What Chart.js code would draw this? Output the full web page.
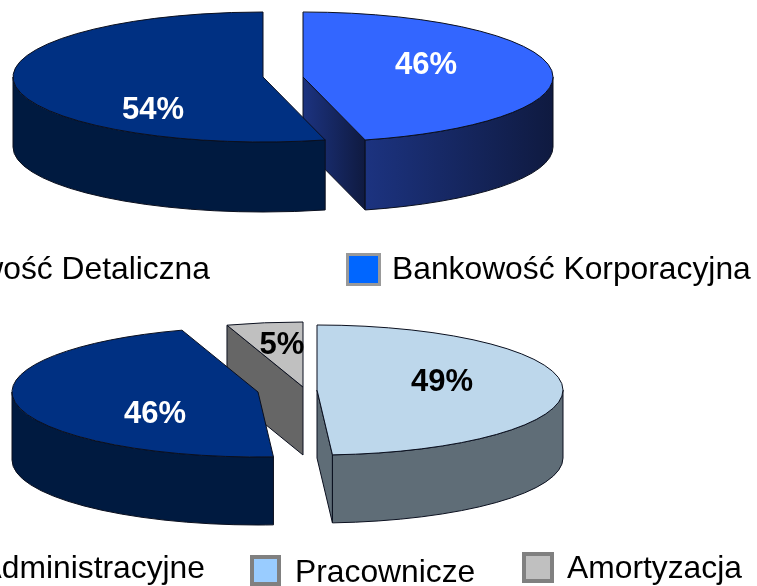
<!DOCTYPE html>
<html>
<head>
<meta charset="utf-8">
<title>Pie charts</title>
<script src="https://cdn.jsdelivr.net/npm/chart.js@4"></script>
<style>
html, body { margin: 0; padding: 0; background: #fff; }
body { position: relative; width: 757px; height: 586px; overflow: hidden; font-family: "Liberation Sans", Arial, sans-serif; }
.box { position: absolute; left: 0; width: 757px; height: 293px; }
.swatch { position: absolute; box-sizing: border-box; }
.name { position: absolute; font-size: 31.8px; line-height: 36px; white-space: nowrap; color: #000; }
</style>
</head>
<body>
<div class="box" style="top:0"><canvas id="incomeChart"></canvas></div>
<div class="box" style="top:293px"><canvas id="costChart"></canvas></div>
<script>
// income split
var incomeCategories = ["Bankowość Korporacyjna", "Bankowość Detaliczna"];
var incomeValues = [46, 54];
var incomeTopColors = ["#3366ff", "#003082"];
var incomeWallColors = [["#1c3380", "#0f1a40"], ["#001a40", "#001a40"]];
var incomeLegendColors = ["#0066ff", "#003082"];

// cost split
var costCategories = ["Pracownicze", "Administracyjne", "Amortyzacja"];
var costValues = [49, 46, 5];
var costTopColors = ["#bdd7eb", "#003082", "#c0c0c0"];
var costWallColors = [["#5f6d77", "#5f6d77"], ["#001a40", "#001a40"], ["#666666", "#666666"]];
var costLegendColors = ["#99ccff", "#003082", "#c0c0c0"];

// flattens the library's pie and gives every slice a side wall
var pie3d = {
	id: "pie3d",
	afterDatasetsUpdate: function(chart, args, opts) {
		var arcs = chart.getDatasetMeta(0).data;
		var area = chart.chartArea;
		var bx = (area.left + area.right) / 2, by = (area.top + area.bottom) / 2;
		arcs.forEach(function(el, i) {
			el.x = bx + opts.shift[i][0] * el.outerRadius / opts.rx;
			el.y = by + opts.shift[i][1] * el.outerRadius / opts.ry;
		});
	},
	beforeDatasetDraw: function(chart, args, opts) {
		var ctx = chart.ctx, arcs = chart.getDatasetMeta(0).data;
		var order = arcs.map(function(el, i) { return i; });
		order.sort(function(a, b) {
			return Math.sin((arcs[a].startAngle + arcs[a].endAngle) / 2) - Math.sin((arcs[b].startAngle + arcs[b].endAngle) / 2);
		});
		order.forEach(function(i) { drawWalls(ctx, arcs[i], i, opts); });
		var area = chart.chartArea, R = arcs[0].outerRadius;
		ctx.save();
		ctx.translate(opts.cx, opts.cy);
		ctx.scale(opts.rx / R, opts.ry / R);
		ctx.translate(-(area.left + area.right) / 2, -(area.top + area.bottom) / 2);
	},
	afterDatasetDraw: function(chart, args, opts) {
		var ctx = chart.ctx, arcs = chart.getDatasetMeta(0).data;
		var values = chart.data.datasets[0].data;
		ctx.restore();
		arcs.forEach(function(el, i) {
			var c = center(i, opts);
			ctx.beginPath();
			ctx.moveTo(c[0], c[1]);
			ctx.ellipse(c[0], c[1], opts.rx, opts.ry, 0, el.startAngle, el.endAngle);
			ctx.closePath();
			ctx.lineWidth = 1;
			ctx.strokeStyle = "#0a0f1e";
			ctx.stroke();
		});
		ctx.font = "bold 31px 'Liberation Sans', Arial, sans-serif";
		ctx.textAlign = "center";
		ctx.textBaseline = "middle";
		arcs.forEach(function(el, i) {
			ctx.fillStyle = opts.labelColors[i];
			ctx.fillText(values[i] + "%", opts.labelPos[i][0], opts.labelPos[i][1]);
		});
	}
};

function center(i, opts) {
	return [opts.cx + opts.shift[i][0], opts.cy + opts.shift[i][1]];
}

function wallFill(ctx, colors, x0, x1) {
	var g = ctx.createLinearGradient(x0, 0, x1, 0);
	g.addColorStop(0, colors[0]);
	g.addColorStop(1, colors[1]);
	return g;
}

function drawWalls(ctx, el, i, opts) {
	var c = center(i, opts), d = opts.depth, colors = opts.walls[i];
	ctx.save();
	ctx.lineWidth = 1;
	ctx.strokeStyle = "#0a0f1e";
	// cut faces turned towards the viewer
	[[el.startAngle, Math.cos(el.startAngle) < -1e-6], [el.endAngle, Math.cos(el.endAngle) > 1e-6]].forEach(function(face) {
		if (!face[1]) return;
		var ex = c[0] + Math.cos(face[0]) * opts.rx, ey = c[1] + Math.sin(face[0]) * opts.ry;
		ctx.beginPath();
		ctx.moveTo(c[0], c[1]);
		ctx.lineTo(ex, ey);
		ctx.lineTo(ex, ey + d);
		ctx.lineTo(c[0], c[1] + d);
		ctx.closePath();
		ctx.fillStyle = wallFill(ctx, colors, Math.min(c[0], ex), Math.max(c[0], ex));
		ctx.fill();
		ctx.stroke();
	});
	// rim, only the front half of the ellipse
	for (var k = -1; k <= 1; k++) {
		var a0 = Math.max(el.startAngle, 2 * Math.PI * k), a1 = Math.min(el.endAngle, Math.PI + 2 * Math.PI * k);
		if (a1 <= a0) continue;
		var x0 = c[0] + Math.cos(a0) * opts.rx, x1 = c[0] + Math.cos(a1) * opts.rx;
		ctx.beginPath();
		ctx.ellipse(c[0], c[1], opts.rx, opts.ry, 0, a0, a1);
		ctx.ellipse(c[0], c[1] + d, opts.rx, opts.ry, 0, a1, a0, true);
		ctx.closePath();
		ctx.fillStyle = wallFill(ctx, colors, Math.min(x0, x1), Math.max(x0, x1));
		ctx.fill();
		ctx.stroke();
	}
	ctx.restore();
}

function makePie(id, categories, values, colors, pieOpts) {
	return new Chart(document.getElementById(id), {
		type: "pie",
		data: {
			labels: categories,
			datasets: [{ data: values, backgroundColor: colors, borderWidth: 0, clip: false }]
		},
		options: {
			responsive: true,
			maintainAspectRatio: false,
			animation: false,
			events: [],
			plugins: {
				legend: { display: false },
				tooltip: { enabled: false },
				pie3d: pieOpts
			}
		},
		plugins: [pie3d]
	});
}

makePie("incomeChart", incomeCategories, incomeValues, incomeTopColors, {
	cx: 283, cy: 77, rx: 250, ry: 65, depth: 70,
	shift: [[20, 0], [-20, 0]],
	walls: incomeWallColors,
	labelColors: ["#fff", "#fff"],
	labelPos: [[426, 65], [153, 110]]
});

makePie("costChart", costCategories, costValues, costTopColors, {
	cx: 290, cy: 97, rx: 246, ry: 65, depth: 68,
	shift: [[27, 0], [-32, 2], [13, -3]],
	walls: costWallColors,
	labelColors: ["#000", "#fff", "#000"],
	labelPos: [[442, 89], [155, 121], [282, 52]]
});

// legend rows, built from the same names
function addLegend(categories, colors, places) {
	categories.forEach(function(name, i) {
		var p = places[i];
		var sw = document.createElement("div");
		sw.className = "swatch";
		sw.style.cssText = "left:" + p.box[0] + "px;top:" + p.box[1] + "px;width:" + p.box[2] + "px;height:" + p.box[3] + "px;background:" + colors[i] + ";border:" + p.border;
		document.body.appendChild(sw);
		var t = document.createElement("div");
		t.className = "name";
		t.textContent = name;
		t.style.top = p.top + "px";
		if (p.left != null) t.style.left = p.left + "px"; else t.style.right = p.right + "px";
		document.body.appendChild(t);
	});
}

addLegend(incomeCategories, incomeLegendColors, [
	{ box: [346, 253, 35, 33], left: 392, top: 250, border: "3px solid #999" },
	{ box: [-152, 253, 35, 33], right: 547, top: 250, border: "3px solid #999" }
]);

addLegend(costCategories, costLegendColors, [
	{ box: [250, 555, 31, 31], left: 295, top: 553, border: "4px solid #808080" },
	{ box: [-62, 552, 31, 31], right: 552, top: 549, border: "4px solid #808080" },
	{ box: [522, 552, 32, 31], left: 567, top: 549, border: "4px solid #808080" }
]);
</script>
</body>
</html>
